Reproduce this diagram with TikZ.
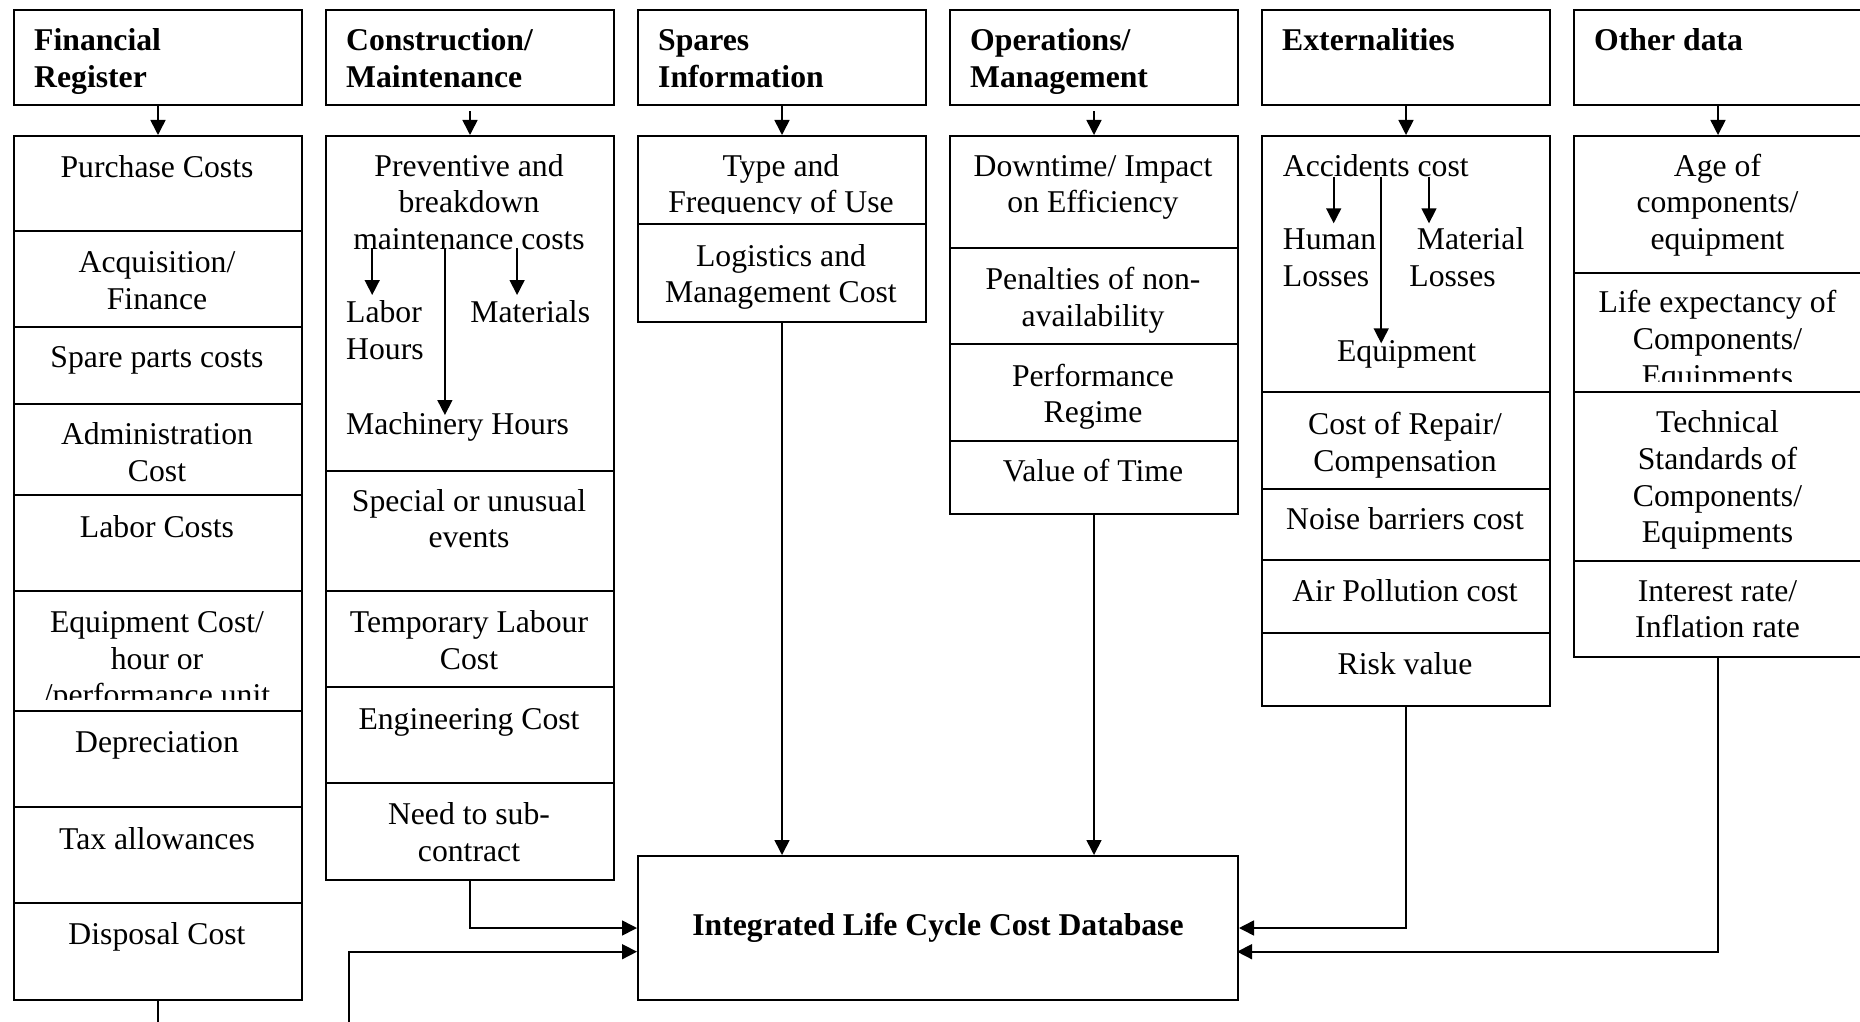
\documentclass[tikz,border=0pt]{standalone}
\usepackage{fontspec}
\setmainfont{Liberation Serif}
\usetikzlibrary{arrows.meta}
\begin{document}
\begin{tikzpicture}[x=1pt,y=-1pt,
  box/.style={draw=black, line width=2pt, rectangle, inner sep=0pt, minimum width=288pt, anchor=north west},
  hdrbox/.style={box, minimum height=95.5pt},
  divider/.style={line width=2pt},
  conn/.style={line width=1.6pt, -{Triangle[length=15pt,width=15pt]}},
  ct/.style={anchor=north, align=center, inner sep=0pt, font=\fontsize{31.7}{36.7}\selectfont},
  lt/.style={anchor=north west, align=left, inner sep=0pt, font=\fontsize{31.7}{36.7}\selectfont},
  ht/.style={anchor=north west, align=left, inner sep=0pt, font=\fontsize{31.7}{36.7}\selectfont\bfseries},
]
\useasboundingbox (0,0) rectangle (1860,1022);

% ---------- header boxes ----------
\node[hdrbox] (h1) at (13,9) {};
\node[hdrbox] (h2) at (325,9) {};
\node[hdrbox] (h3) at (637,9) {};
\node[hdrbox] (h4) at (949,9) {};
\node[hdrbox] (h5) at (1261,9) {};
\node[hdrbox] (h6) at (1573,9) {};
\node[ht] (t1) at (34,24.6) {\strut Financial\\Register};
\node[ht] (t2) at (346,24.6) {\strut Construction/\\Maintenance};
\node[ht] (t3) at (658,24.6) {\strut Spares\\Information};
\node[ht] (t4) at (970,24.6) {\strut Operations/\\Management};
\node[ht] (t5) at (1282,24.6) {\strut Externalities};
\node[ht] (t6) at (1594,24.6) {\strut Other data};

% ---------- item boxes ----------
\node[box, minimum height=864pt] (i1) at (13,135) {};
\node[box, minimum height=744pt] (i2) at (325,135) {};
\node[box, minimum height=185.7pt] (i3) at (637,135) {};
\node[box, minimum height=377.7pt] (i4) at (949,135) {};
\node[box, minimum height=570pt] (i5) at (1261,135) {};
\node[box, minimum height=521pt] (i6) at (1573,135) {};

\foreach \y in {230.7,327,404,495,590.7,710.7,806.7,903} \draw[divider] (13,\y) -- +(288,0);
\foreach \y in {470.7,590.7,687.3,783.3} \draw[divider] (325,\y) -- +(288,0);
\foreach \y in {224} \draw[divider] (637,\y) -- +(288,0);
\foreach \y in {248.3,344.3,440.7} \draw[divider] (949,\y) -- +(288,0);
\foreach \y in {392.3,489,560,632.7} \draw[divider] (1261,\y) -- +(288,0);
\foreach \y in {272.7,392.3,560.7} \draw[divider] (1573,\y) -- +(290,0);

% ---------- column 1 ----------
\node[ct] (f1) at (157,152) {\strut Purchase Costs};
\node[ct] (f2) at (157,247) {\strut Acquisition/\\Finance};
\node[ct] (f3) at (157,342) {\strut Spare parts costs};
\node[ct] (f4) at (157,418.6) {\strut Administration\\Cost};
\node[ct] (f5) at (157,511.5) {\strut Labor Costs};
\begin{scope}
\clip (13,590.7) rectangle (301,699.3);
\node[ct] (f6) at (157,606.5) {\strut Equipment Cost/\\hour or\\/performance unit};
\end{scope}
\node[ct] (f7) at (157,727) {\strut Depreciation};
\node[ct] (f8) at (157,823.6) {\strut Tax allowances};
\node[ct] (f9) at (157,918.6) {\strut Disposal Cost};

% ---------- column 2 ----------
\node[ct] (c1) at (469,150.3) {\strut Preventive and\\breakdown\\maintenance costs};
\node[lt] (c1a) at (346,297) {\strut Labor\\Hours};
\node[lt] (c1b) at (470.2,297) {\strut Materials};
\node[lt] (c1c) at (346,408.6) {\strut Machinery Hours};
\node[ct] (c2) at (469,485.3) {\strut Special or unusual\\events};
\node[ct] (c3) at (469,607) {\strut Temporary Labour\\Cost};
\node[ct] (c4) at (469,703.6) {\strut Engineering Cost};
\node[ct] (c5) at (469,798.6) {\strut Need to sub-\\contract};
\coordinate (ca1s) at (372.2,248.3); \coordinate (ca1e) at (372.2,295);
\coordinate (ca2s) at (444.9,248.3); \coordinate (ca2e) at (444.9,415);
\coordinate (ca3s) at (517.1,248.3); \coordinate (ca3e) at (517.1,295);
\draw[conn] (ca1s) -- (ca1e);
\draw[conn] (ca2s) -- (ca2e);
\draw[conn] (ca3s) -- (ca3e);

% ---------- column 3 ----------
\begin{scope}
\clip (637,135) rectangle (925,213);
\node[ct] (s1) at (781,150.3) {\strut Type and\\Frequency of Use};
\end{scope}
\node[ct] (s2) at (781,240.3) {\strut Logistics and\\Management Cost};

% ---------- column 4 ----------
\node[ct] (o1) at (1093,150.3) {\strut Downtime/ Impact\\on Efficiency};
\node[ct] (o2) at (1093,263.6) {\strut Penalties of non-\\availability};
\node[ct] (o3) at (1093,360.3) {\strut Performance\\Regime};
\node[ct] (o4) at (1093,455.3) {\strut Value of Time};

% ---------- column 5 ----------
\node[lt] (e1) at (1282.7,150.3) {\strut Accidents cost};
\node[lt] (e1a) at (1282.7,223.6) {\strut Human\\Losses};
\node[lt] (e1b) at (1416.7,223.6) {\strut Material};
\node[lt] (e1c) at (1409.2,260.3) {\strut Losses};
\node[lt] (e1d) at (1336.9,335.3) {\strut Equipment};
\coordinate (ea1s) at (1333.7,176.7); \coordinate (ea1e) at (1333.7,223.3);
\coordinate (ea2s) at (1381.2,176.7); \coordinate (ea2e) at (1381.2,343.3);
\coordinate (ea3s) at (1429,176.7); \coordinate (ea3e) at (1429,223.3);
\draw[conn] (ea1s) -- (ea1e);
\draw[conn] (ea2s) -- (ea2e);
\draw[conn] (ea3s) -- (ea3e);
\node[ct] (e2) at (1405,408.6) {\strut Cost of Repair/\\Compensation};
\node[ct] (e3) at (1405,503.6) {\strut Noise barriers cost};
\node[ct] (e4) at (1405,575.3) {\strut Air Pollution cost};
\node[ct] (e5) at (1405,648.6) {\strut Risk value};

% ---------- column 6 ----------
\node[ct] (d1) at (1717.5,150.3) {\strut Age of\\components/\\equipment};
\begin{scope}
\clip (1573,272.7) rectangle (1862,381.7);
\node[ct] (d2) at (1717.5,287) {\strut Life expectancy of\\Components/\\Equipments};
\end{scope}
\node[ct] (d3) at (1717.5,407) {\strut Technical\\Standards of\\Components/\\Equipments};
\node[ct] (d4) at (1717.5,575.3) {\strut Interest rate/\\Inflation rate};

% ---------- database ----------
\node[draw=black, line width=2pt, rectangle, inner sep=0pt, minimum width=600pt, minimum height=144pt,
      anchor=north west, font=\fontsize{31.7}{36.7}\selectfont\bfseries] (db) at (637,855)
      {Integrated Life Cycle Cost Database};
\coordinate (dbL2) at (637,951.7);
\coordinate (dbR2) at (1237,951.7);
\coordinate (finturn) at (349,1060);

% ---------- connectors ----------
\draw[conn] (h1.south) -- (i1.north);
\draw[conn, shorten <=5pt] (h2.south) -- (i2.north);
\draw[conn] (h3.south) -- (i3.north);
\draw[conn, shorten <=5pt] (h4.south) -- (i4.north);
\draw[conn] (h5.south) -- (i5.north);
\draw[conn] (h6.south) -- (i6.north);

\draw[conn] (i3.south) -- (i3.south |- db.north);
\draw[conn] (i4.south) -- (i4.south |- db.north);
\draw[conn] (i2.south) |- (db.west);
\draw[conn] (i5.south) |- (db.east);
\draw[conn] (i6.south) |- (dbR2);
\draw[conn] (i1.south) |- (finturn) |- (dbL2);
\end{tikzpicture}
\end{document}
